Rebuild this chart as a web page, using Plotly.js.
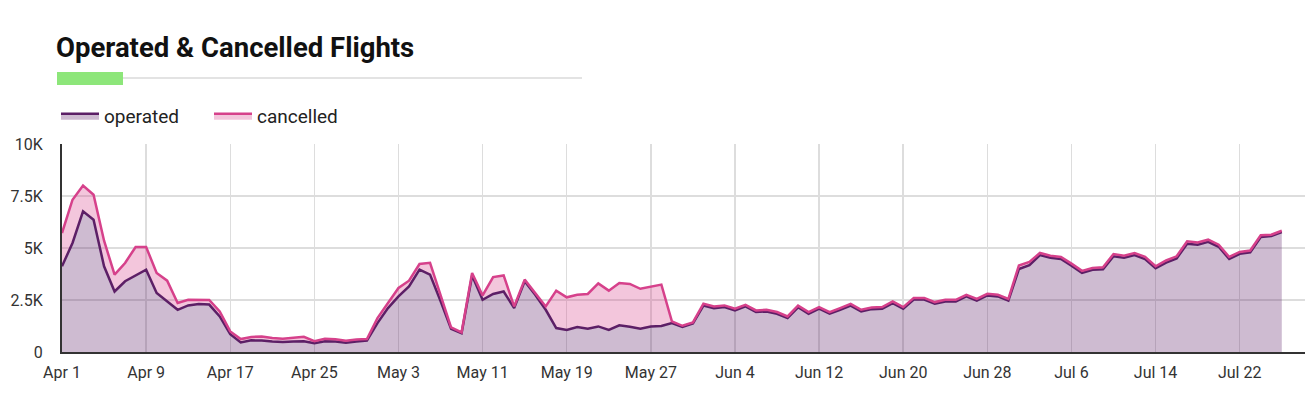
<!DOCTYPE html>
<html>
<head>
<meta charset="utf-8">
<script src="https://cdn.plot.ly/plotly-3.0.1.min.js"></script>
<style>
  html, body { margin: 0; padding: 0; background: #fff; }
  #chart { width: 1312px; height: 398px; }
</style>
</head>
<body>
<div id="chart"></div>
<script>
// Daily series starting Apr 1
const startDate = [2020, 3, 1];
const chartTitle = 'Operated & Cancelled Flights';
const seriesNames = ['operated', 'cancelled'];
const operated = [
  4120,5240,6760,6360,4120,2910,3400,3680,3960,2840,
  2430,2030,2240,2310,2280,1710,860,460,560,550,
  500,480,500,520,420,520,500,450,500,550,
  1390,2110,2670,3150,3960,3720,2450,1120,900,3680,
  2510,2790,2910,2110,3400,2750,2030,1150,1060,1200,
  1120,1230,1060,1280,1210,1120,1230,1250,
  1390,1200,1370,2230,2100,2160,2000,2190,1920,1950,
  1840,1630,2150,1840,2080,1840,2030,2230,1950,2060,
  2080,2350,2080,2520,2520,2320,2430,2430,2670,2470,
  2720,2670,2470,3990,4180,4660,4530,4470,4150,3800,
  3950,3980,4600,4530,4660,4470,4030,4300,4500,5200,
  5160,5300,5060,4470,4720,4790,5530,5570,5770
];
const cancelled = [
  1600,2080,1240,1200,1230,810,880,1370,1090,960,
  1000,330,270,200,220,240,130,160,160,200,
  170,160,170,210,100,120,110,90,100,70,
  240,250,410,280,270,570,300,60,40,120,
  210,810,770,80,80,90,160,1800,1570,1550,
  1670,2070,1890,2040,2060,1920,1920,1990,
  80,60,50,90,90,80,80,80,80,80,
  80,80,80,80,80,80,80,80,80,80,
  80,80,80,80,80,80,80,80,80,80,
  80,80,80,170,150,100,100,100,100,100,
  90,90,110,100,100,100,90,100,100,120,
  110,100,100,100,90,90,80,70,60
];
const yTickVals = [0, 2500, 5000, 7500, 10000];
const yTickText = ['0', '2.5K', '5K', '7.5K', '10K'];

const dates = operated.map((_, i) =>
  new Date(Date.UTC(startDate[0], startDate[1], startDate[2] + i)).toISOString().slice(0, 10));

const traces = [
  {
    x: dates, y: operated, name: seriesNames[0], type: 'scatter', mode: 'lines',
    stackgroup: 'one',
    line: { color: '#5c1f66', width: 2.5, shape: 'linear' },
    fillcolor: 'rgba(92,31,102,0.30)'
  },
  {
    x: dates, y: cancelled, name: seriesNames[1], type: 'scatter', mode: 'lines',
    stackgroup: 'one',
    line: { color: '#d6418b', width: 2.5, shape: 'linear' },
    fillcolor: 'rgba(214,65,139,0.30)'
  }
];

const layout = {
  width: 1312, height: 398,
  margin: { l: 62, r: 7, t: 144, b: 46 },
  paper_bgcolor: '#ffffff', plot_bgcolor: '#ffffff',
  font: { family: 'Roboto, "Open Sans", sans-serif', color: '#333', size: 16 },
  title: {
    text: '<b>' + chartTitle + '</b>',
    font: { family: 'Roboto, sans-serif', size: 27.5, color: '#111' },
    xref: 'container', yref: 'container',
    x: 56 / 1312, xanchor: 'left',
    y: 1 - 47.5 / 398, yanchor: 'middle'
  },
  showlegend: true,
  legend: {
    orientation: 'h', x: -6 / 1243, xanchor: 'left', y: (352 - 116) / 208, yanchor: 'middle',
    font: { family: 'Roboto, sans-serif', size: 19, color: '#222' },
    traceorder: 'normal', itemwidth: 38, entrywidth: 100, entrywidthmode: 'pixels'
  },
  xaxis: {
    type: 'date',
    range: ['2020-04-01', '2020-07-28 05:00'],
    tick0: '2020-04-01', dtick: 8 * 86400000,
    tickformat: '%b %-d',
    showgrid: true, gridcolor: '#dddddd', gridwidth: 1.5,
    showline: true, linecolor: '#333', linewidth: 2,
    ticks: '', ticklabelstandoff: 5,
    tickfont: { size: 16, color: '#333' },
    zeroline: false, fixedrange: true
  },
  yaxis: {
    range: [0, 10000],
    tickvals: yTickVals, ticktext: yTickText,
    showgrid: true, gridcolor: '#dddddd', gridwidth: 1.5,
    showline: true, linecolor: '#333', linewidth: 2,
    ticks: '', ticklabelstandoff: 14,
    tickfont: { size: 16, color: '#333' },
    zeroline: false, fixedrange: true
  },
  shapes: [
    { type: 'line', xref: 'paper', yref: 'paper',
      x0: (57 - 62) / 1243, x1: (582 - 62) / 1243,
      y0: (352 - 78) / 208, y1: (352 - 78) / 208,
      line: { color: '#e3e3e3', width: 2 } },
    { type: 'rect', xref: 'paper', yref: 'paper',
      x0: (57 - 62) / 1243, x1: (123 - 62) / 1243,
      y0: (352 - 85) / 208, y1: (352 - 72) / 208,
      fillcolor: '#8de67a', line: { width: 0 } }
  ]
};

Plotly.newPlot('chart', traces, layout, { displayModeBar: false, staticPlot: true });
</script>
</body>
</html>
